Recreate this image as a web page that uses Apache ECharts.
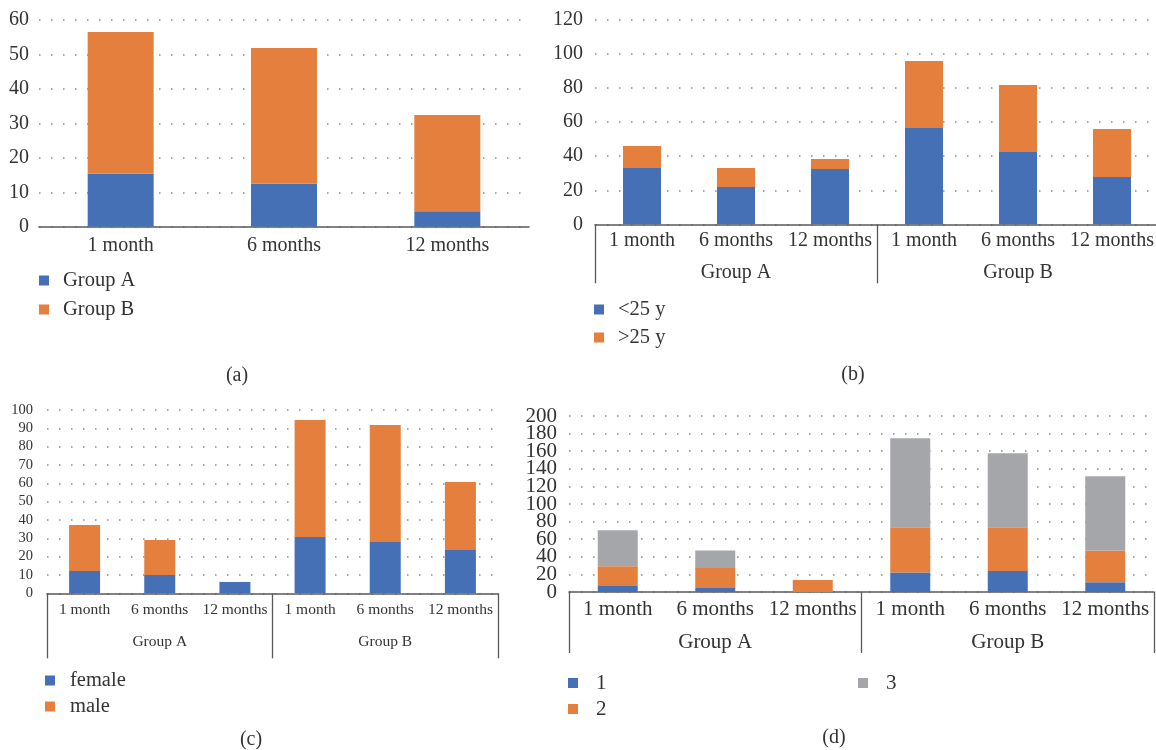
<!DOCTYPE html>
<html>
<head>
<meta charset="utf-8">
<script src="https://cdn.jsdelivr.net/npm/echarts@6/dist/echarts.min.js"></script>
<style>
html,body{margin:0;padding:0;background:#fff;}
#chart{width:1156px;height:750px;}
</style>
</head>
<body>
<div id="chart"></div>
<script>
// ---- categories ----
const monthCats = ['1 month', '6 months', '12 months'];
const groupCats = ['Group A', 'Group B'];
const groupMonthCats = ['1 month', '6 months', '12 months', '1 month', '6 months', '12 months'];

// ---- (a) ----
const aGroupA = [15.4, 12.5, 4.5];
const aGroupB = [41.1, 39.4, 27.9];

// ---- (b) ----
const bUnder25 = [33.1, 21.9, 32.5, 56.6, 42.5, 27.8];
const bOver25 = [12.9, 11.2, 5.9, 39.3, 39.3, 28.2];

// ---- (c) ----
const cFemale = [12.2, 10.0, 6.2, 30.7, 28.0, 23.6];
const cMale = [25.1, 19.1, 0, 63.8, 63.8, 37.1];

// ---- (d) ----
const d1 = [6.8, 4.5, 0, 22.3, 23.9, 11.0];
const d2 = [22.6, 22.7, 13.6, 51.2, 49.6, 36.3];
const d3 = [40.7, 20.1, 0, 101.1, 84.1, 84.1];

const FONT = '"Liberation Serif", "DejaVu Serif", serif';
const TXT = '#333333';
const AXIS = '#595959';
const BLUE = '#4670B5';
const ORANGE = '#E47F3E';
const GRAY = '#A5A6AA';

function yAxis(grid, max, interval, fs, margin, fmt) {
  return {
    type: 'value', gridIndex: grid, min: 0, max: max, interval: interval,
    axisLine: {show: false}, axisTick: {show: false},
    axisLabel: {fontFamily: FONT, fontSize: fs, color: TXT, margin: margin,
      showMinLabel: true, showMaxLabel: true, formatter: fmt},
    splitLine: {show: true, lineStyle: {color: '#8a8a8a', width: 1.5, type: [1.5, 10.5]}}
  };
}
function monthAxis(grid, data, fs, margin) {
  return {
    type: 'category', gridIndex: grid, data: data, position: 'bottom',
    axisLine: {show: true, lineStyle: {color: AXIS, width: 1.5}},
    axisTick: {show: false},
    axisLabel: {fontFamily: FONT, fontSize: fs, color: TXT, margin: margin, interval: 0}
  };
}
function groupAxis(grid, fs, margin, tickLen) {
  return {
    type: 'category', gridIndex: grid, data: groupCats, position: 'bottom',
    axisLine: {show: false},
    axisTick: {show: true, length: tickLen, lineStyle: {color: AXIS, width: 1.3}},
    axisLabel: {fontFamily: FONT, fontSize: fs, color: TXT, margin: margin, interval: 0},
    splitLine: {show: false}
  };
}
function bar(name, data, xi, yi, stack, color, w) {
  return {
    name: name, type: 'bar', data: data, xAxisIndex: xi, yAxisIndex: yi,
    stack: stack, barWidth: w, itemStyle: {color: color}, emphasis: {disabled: true}
  };
}
function legend(names, left, top, gap, fs, pad) {
  return {
    data: names, orient: 'vertical', left: left, top: top, itemGap: gap,
    itemWidth: 10, itemHeight: 10, icon: 'rect', padding: 0,
    textStyle: {fontFamily: FONT, fontSize: fs, color: TXT, padding: [0, 0, 0, pad]}
  };
}
function caption(text, x, y) {
  return {type: 'text', x: x, y: y, style: {text: text, fontFamily: FONT, fontSize: 20, fill: TXT, align: 'center', verticalAlign: 'middle'}};
}

// (d): labels at every 40 on the main axis, the in-between ones on an overlay axis
const dMainFmt = function (v) { return (v % 40 === 0) ? String(v) : ''; };

const option = {
  animation: false,
  backgroundColor: '#ffffff',
  grid: [
    {left: 39, top: 20, width: 490, height: 206.7, outerBoundsMode: 'none'},
    {left: 595, top: 20, width: 564, height: 204.3, outerBoundsMode: 'none'},
    {left: 47, top: 410, width: 451, height: 183.3, outerBoundsMode: 'none'},
    {left: 569, top: 416, width: 585, height: 176, outerBoundsMode: 'none'},
    {left: 569, top: 433.6, width: 585, height: 140.8, outerBoundsMode: 'none'}
  ],
  xAxis: [
    monthAxis(0, monthCats, 20, 9),
    monthAxis(1, groupMonthCats, 20, 6),
    groupAxis(1, 20, 38, 59),
    monthAxis(2, groupMonthCats, 15.5, 9),
    groupAxis(2, 15.5, 41, 65),
    monthAxis(3, groupMonthCats, 21, 7),
    groupAxis(3, 21, 40, 61),
    {type: 'value', gridIndex: 4, show: false}
  ],
  yAxis: [
    yAxis(0, 60, 10, 20, 10),
    yAxis(1, 120, 20, 20, 12),
    yAxis(2, 100, 10, 14.5, 14),
    yAxis(3, 200, 20, 21, 12, dMainFmt),
    {
      type: 'value', gridIndex: 4, min: 20, max: 180, interval: 40,
      axisLine: {show: false}, axisTick: {show: false}, splitLine: {show: false},
      axisLabel: {fontFamily: FONT, fontSize: 21, color: TXT, margin: 12, showMinLabel: true, showMaxLabel: true}
    }
  ],
  legend: [
    legend(['Group A', 'Group B'], 39, 270, 8, 20.5, 9),
    legend(['<25 y', '>25 y'], 594, 299, 7, 20.5, 9),
    legend(['female', 'male'], 45, 670, 5, 20.5, 10),
    legend(['1', '2'], 568, 672.5, 5, 21, 13),
    legend(['3'], 858, 672.5, 5, 21, 13)
  ],
  graphic: [
    caption('(a)', 237, 376),
    caption('(b)', 853, 375),
    caption('(c)', 251, 740),
    caption('(d)', 834, 738)
  ],
  series: [
    bar('Group A', aGroupA, 0, 0, 'a', BLUE, 66),
    bar('Group B', aGroupB, 0, 0, 'a', ORANGE, 66),
    bar('<25 y', bUnder25, 1, 1, 'b', BLUE, 38),
    bar('>25 y', bOver25, 1, 1, 'b', ORANGE, 38),
    bar('female', cFemale, 3, 2, 'c', BLUE, 31),
    bar('male', cMale, 3, 2, 'c', ORANGE, 31),
    bar('1', d1, 5, 3, 'd', BLUE, 40),
    bar('2', d2, 5, 3, 'd', ORANGE, 40),
    bar('3', d3, 5, 3, 'd', GRAY, 40)
  ]
};

const chart = echarts.init(document.getElementById('chart'), null, {renderer: 'canvas'});
chart.setOption(option);
</script>
</body>
</html>
